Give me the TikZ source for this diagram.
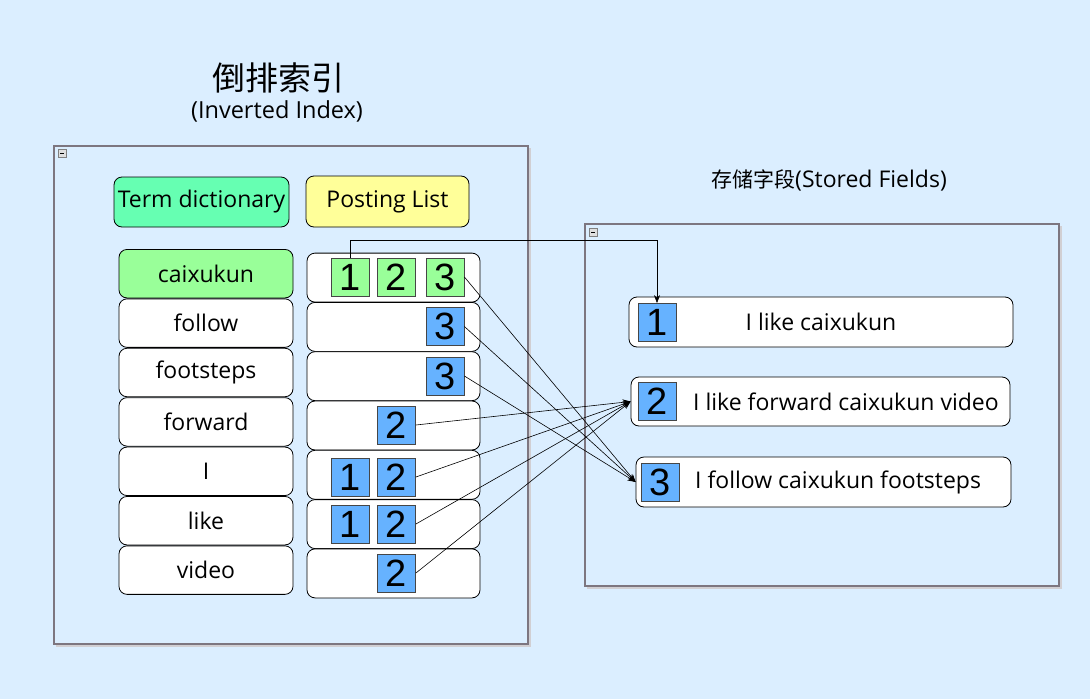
\documentclass[tikz,border=0pt]{standalone}
\usepackage{fontspec}
\setmainfont{Open Sans}
\newfontfamily\numfont{Liberation Sans}
\newfontfamily\cjkfont{Noto Sans CJK SC}
\usetikzlibrary{arrows.meta}
\definecolor{bg}{RGB}{219,238,255}
\definecolor{frame}{RGB}{125,118,128}
\definecolor{termgreen}{RGB}{102,255,178}
\definecolor{postyellow}{RGB}{255,255,153}
\definecolor{lgreen}{RGB}{153,255,153}
\definecolor{lblue}{RGB}{102,178,255}
\definecolor{boxedge}{RGB}{70,70,70}
\tikzset{
  container/.style={draw=frame, line width=1.3pt, fill=bg, inner sep=0pt},
  shadowline/.style={draw=frame!35, line width=1.5pt},
  minusbox/.style={draw=gray, fill=gray!25, line width=0.6pt, minimum size=8pt, inner sep=0pt},
  txt/.style={font=\fontsize{23}{26}\selectfont},
  rowbox/.style={draw=black, line width=0.8pt, rounded corners=8pt, fill=white, inner sep=0pt, txt},
  headbox/.style={rowbox},
  numbox/.style={draw=boxedge, line width=0.8pt, minimum width=38pt, minimum height=38pt, inner sep=0pt, font=\numfont\fontsize{38}{40}\selectfont},
  gnum/.style={numbox, fill=lgreen},
  bnum/.style={numbox, fill=lblue},
  arr/.style={draw=black, line width=0.6pt, -{Stealth[length=8pt,width=6pt]}}
}
\begin{document}
\begin{tikzpicture}[x=1pt,y=-1pt]
\fill[bg] (0,0) rectangle (1090,699);
\useasboundingbox (0,0) rectangle (1090,699);

% titles
\node (title) at (278,78) {\cjkfont\fontsize{33}{36}\selectfont 倒排索引};
\node (subtitle) at (277,111) {\fontsize{23.5}{26}\selectfont (Inverted Index)};
\node (sftitle) at (829,180) {\fontsize{23}{26}\selectfont{\cjkfont\fontsize{21}{24}\selectfont 存储字段}(Stored Fields)};

% containers
\draw[shadowline] (56,646) -- (530,646) -- (530,148);
\path[container] (54,146) rectangle (528,644);
\node[minusbox] (lminus) at (62.5,153) {};
\draw (lminus.west) ++(2pt,0) -- ++(4pt,0);
\draw[shadowline] (587,588) -- (1061,588) -- (1061,226);
\path[container] (585,224) rectangle (1059,586);
\node[minusbox] (rminus) at (593.5,232) {};
\draw (rminus.west) ++(2pt,0) -- ++(4pt,0);

% headers
\node[headbox, fill=termgreen, minimum width=175pt, minimum height=50pt] (termhead) at (201.5,202) {Term dictionary};
\node[headbox, fill=postyellow, minimum width=163pt, minimum height=51pt] (posthead) at (387.5,201.5) {Posting List};

% term rows
\node[rowbox, fill=lgreen, minimum width=174pt, minimum height=48.5pt] (t1) at (206,273.7) {caixukun};
\node[rowbox, minimum width=174pt, minimum height=48.5pt] (t2) at (206,323.1) {follow};
\node[rowbox, minimum width=174pt, minimum height=48.5pt] (t3) at (206,372.5) {footsteps};
\node[rowbox, minimum width=174pt, minimum height=48.5pt] (t4) at (206,421.9) {forward};
\node[rowbox, minimum width=174pt, minimum height=48.5pt] (t5) at (206,471.3) {I};
\node[rowbox, minimum width=174pt, minimum height=48.5pt] (t6) at (206,520.7) {like};
\node[rowbox, minimum width=174pt, minimum height=48.5pt] (t7) at (206,570.1) {video};

% posting rows
\node[rowbox, minimum width=173pt, minimum height=49pt] (p1) at (393.5,277.6) {};
\node[rowbox, minimum width=173pt, minimum height=49pt] (p2) at (393.5,326.9) {};
\node[rowbox, minimum width=173pt, minimum height=49pt] (p3) at (393.5,376.2) {};
\node[rowbox, minimum width=173pt, minimum height=49pt] (p4) at (393.5,425.5) {};
\node[rowbox, minimum width=173pt, minimum height=49pt] (p5) at (393.5,474.8) {};
\node[rowbox, minimum width=173pt, minimum height=49pt] (p6) at (393.5,524.1) {};
\node[rowbox, minimum width=173pt, minimum height=49pt] (p7) at (393.5,573.4) {};

% posting numbers
\node[gnum] (p1a) at (350,277) {1};
\node[gnum] (p1b) at (396.5,277) {2};
\node[gnum] (p1c) at (445,277) {3};
\node[bnum] (p2c) at (445,326.5) {3};
\node[bnum] (p3c) at (445,376) {3};
\node[bnum] (p4b) at (396.5,425) {2};
\node[bnum] (p5a) at (350,477) {1};
\node[bnum] (p5b) at (396.5,477) {2};
\node[bnum] (p6a) at (350,524) {1};
\node[bnum] (p6b) at (396.5,524) {2};
\node[bnum] (p7b) at (396.5,573) {2};

% documents
\node[rowbox, minimum width=384pt, minimum height=50pt] (d1) at (821,322) {};
\node[bnum] (d1n) at (657,322.5) {1};
\node[txt] (d1t) at (821,322) {I like caixukun};

\node[rowbox, minimum width=379pt, minimum height=49pt] (d2) at (820.5,401.5) {};
\node[bnum] (d2n) at (657,401.5) {2};
\node[txt, anchor=west, inner sep=0pt] (d2t) at (693,401.5) {I like forward caixukun video};

\node[rowbox, minimum width=375pt, minimum height=50pt] (d3) at (823.5,482) {};
\node[bnum] (d3n) at (660,482.5) {3};
\node[txt, anchor=west, inner sep=0pt] (d3t) at (695,482) {I follow caixukun footsteps};

% connectors
\draw[arr] (p1a.north) |- ([yshift=63pt]d1n.north) -- (d1n.north);
\draw[arr] (p1c.east) -- (d3.west);
\draw[arr] (p2c.east) -- (d3.west);
\draw[arr] (p3c.east) -- (d3.west);
\draw[arr] (p4b.east) -- (d2.west);
\draw[arr] (p5b.east) -- (d2.west);
\draw[arr] (p6b.east) -- (d2.west);
\draw[arr] (p7b.east) -- (d2.west);
\end{tikzpicture}
\end{document}
